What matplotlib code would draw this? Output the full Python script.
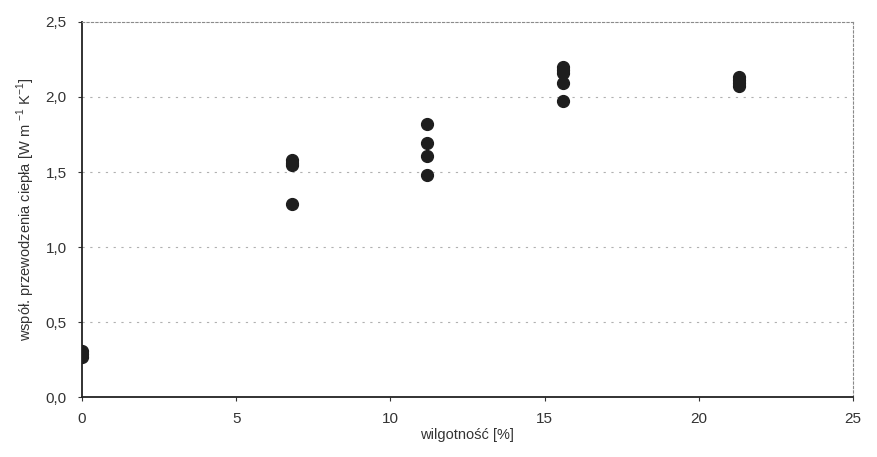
import matplotlib
matplotlib.use("Agg")
import matplotlib.pyplot as plt
from matplotlib.ticker import FuncFormatter

#---------------------------------
# Data
#---------------------------------

moisture = [0.0, 0.0, 0.0,
            6.8, 6.8, 6.8, 6.8,
            11.2, 11.2, 11.2, 11.2,
            15.6, 15.6, 15.6, 15.6, 15.6,
            21.3, 21.3, 21.3, 21.3]
conductivity = [0.31, 0.29, 0.27,
                1.58, 1.56, 1.55, 1.29,
                1.82, 1.69, 1.61, 1.48,
                2.20, 2.18, 2.16, 2.09, 1.97,
                2.13, 2.11, 2.09, 2.07]

X_TICKS = [0, 5, 10, 15, 20, 25]
Y_TICKS = [0.0, 0.5, 1.0, 1.5, 2.0, 2.5]

#---------------------------------
# Plot
#---------------------------------

plt.rcParams["font.family"] = ["Liberation Sans", "DejaVu Sans"]
plt.rcParams["mathtext.fontset"] = "custom"
plt.rcParams["mathtext.rm"] = "Liberation Sans"

fig = plt.figure(figsize=(8.77, 4.57), dpi=100)
ax = fig.add_axes([0.0935, 0.131, 0.879, 0.821])

ax.plot(moisture, conductivity, "o", color="#1e1e1e", markersize=8.5, zorder=3)

ax.set_xlim(0, 25)
ax.set_ylim(0, 2.5)
ax.set_xticks(X_TICKS)
ax.set_yticks(Y_TICKS)
ax.yaxis.set_major_formatter(FuncFormatter(lambda v, p: f"{v:.1f}".replace(".", ",")))

for y in Y_TICKS[1:-1]:
    ax.axhline(y, color="#b0b0b0", linestyle=(0, (2, 5)), linewidth=0.8, zorder=1)

ax.spines["left"].set_color("#222222")
ax.spines["bottom"].set_color("#222222")
ax.spines["left"].set_linewidth(1.3)
ax.spines["bottom"].set_linewidth(1.3)
for s in ("top", "right"):
    ax.spines[s].set_color("#8a8a8a")
    ax.spines[s].set_linestyle((0, (2, 2)))
    ax.spines[s].set_linewidth(0.8)

ax.tick_params(axis="both", labelsize=11, colors="#333333", length=3, pad=8)

ax.set_xlabel("wilgotność [%]", fontsize=10.5, color="#333333", labelpad=1)
ax.set_ylabel(r"współ. przewodzenia ciepła [W m $^{-1}$ K$^{-1}$]",
              fontsize=10.5, color="#333333", labelpad=6)

fig.savefig("out.png", dpi=100)
